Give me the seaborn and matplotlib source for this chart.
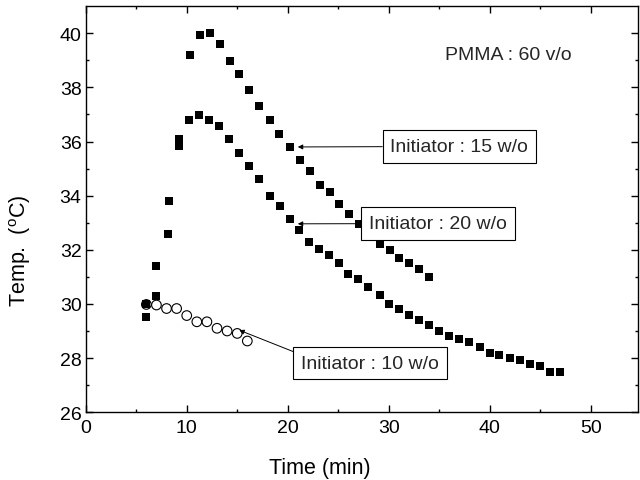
import matplotlib
matplotlib.use("Agg")
import matplotlib.pyplot as plt
import numpy as np
import pandas as pd
import seaborn as sns

# Temperature rise during polymerization, PMMA 60 v/o, three initiator loadings
time_15 = [6.0, 7.0, 8.1, 9.2, 10.3, 11.3, 12.3, 13.3, 14.3, 15.2, 16.2, 17.2, 18.2, 19.1,
           20.2, 21.2, 22.2, 23.2, 24.2, 25.1, 26.1, 27.1, 28.1, 29.1, 30.1, 31.0, 32.0,
           33.0, 34.0]
temp_15 = [29.5, 30.3, 32.6, 36.1, 39.2, 39.93, 40.0, 39.6, 38.97, 38.48, 37.9, 37.3, 36.78,
           36.29, 35.8, 35.3, 34.9, 34.4, 34.12, 33.7, 33.32, 32.95, 32.6, 32.2, 32.0, 31.7,
           31.5, 31.3, 31.0]

time_20 = [6.0, 7.0, 8.2, 9.2, 10.2, 11.2, 12.2, 13.2, 14.2, 15.2, 16.2, 17.2, 18.2, 19.2,
           20.2, 21.1, 22.1, 23.1, 24.1, 25.1, 26.0, 27.0, 28.0, 29.1, 30.0, 31.0, 32.0,
           33.0, 34.0, 35.0, 36.0, 37.0, 38.0, 39.0, 40.0, 40.9, 42.0, 43.0, 44.0, 45.0,
           46.0, 47.0]
temp_20 = [30.0, 31.4, 33.8, 35.85, 36.8, 36.99, 36.8, 36.59, 36.08, 35.58, 35.09, 34.6, 34.0,
           33.6, 33.12, 32.73, 32.3, 32.02, 31.81, 31.52, 31.11, 30.91, 30.64, 30.33, 30.0,
           29.82, 29.6, 29.42, 29.22, 29.01, 28.81, 28.72, 28.61, 28.41, 28.2, 28.11, 27.99,
           27.91, 27.78, 27.71, 27.5, 27.5]

time_10 = [6, 7, 8, 9, 10, 11, 12, 13, 14, 15, 16]
temp_10 = [29.98, 29.96, 29.83, 29.83, 29.57, 29.34, 29.34, 29.1, 29.0, 28.91, 28.63]

sns.set_theme(style="ticks")
plt.rcParams["font.family"] = ["Liberation Sans", "DejaVu Sans"]
plt.rcParams["mathtext.fontset"] = "custom"
plt.rcParams["mathtext.rm"] = "Liberation Sans"

filled = pd.DataFrame({
    "time": time_15 + time_20,
    "temp": temp_15 + temp_20,
})
hollow = pd.DataFrame({"time": time_10, "temp": temp_10})

fig = plt.figure(figsize=(6.4, 4.81), dpi=100)
ax = fig.add_axes([0.134, 0.141, 0.863, 0.844])

sns.scatterplot(data=filled, x="time", y="temp", marker="s", s=30, color="black",
                edgecolor="black", linewidth=0, ax=ax, zorder=2)
sns.scatterplot(data=hollow, x="time", y="temp", marker="o", s=48, facecolor="none",
                edgecolor="black", linewidth=0.8, ax=ax, zorder=2)

ax.set_xlim(0, 54.7)
ax.set_ylim(26, 41)
ax.set_xticks(range(0, 51, 10))
ax.set_xticks(range(5, 55, 10), minor=True)
ax.set_yticks(range(26, 41, 2))
ax.set_yticks(range(27, 41, 2), minor=True)
ax.tick_params(which="both", direction="in", top=True, right=True, labelsize=14,
               color="black", labelcolor="black", width=1)
ax.tick_params(which="major", length=5)
ax.tick_params(axis="x", which="major", pad=5)
ax.tick_params(axis="y", which="major", pad=3)
ax.tick_params(which="minor", length=2.5)
for sp in ax.spines.values():
    sp.set_color("black")
    sp.set_linewidth(1.0)

ax.set_xlabel("Time (min)", fontsize=15.5, color="black")
ax.set_ylabel(r"Temp.  ($^{\mathrm{o}}$C)", fontsize=15.5, color="black")
ax.xaxis.set_label_coords(0.424, -0.11)
ax.yaxis.set_label_coords(-0.095, 0.40)

ax.text(35.6, 39.23, "PMMA : 60 v/o", fontsize=14, ha="left", va="center")

box = dict(boxstyle="square,pad=0.4", facecolor="white", edgecolor="black", linewidth=0.8)
arrow = dict(arrowstyle="-|>", color="black", linewidth=0.7, mutation_scale=7,
             shrinkA=0, shrinkB=0)
ax.annotate("Initiator : 15 w/o", xy=(21.0, 35.8), xytext=(37.0, 35.82),
            fontsize=14, ha="center", va="center", bbox=box, arrowprops=arrow, zorder=3)
ax.annotate("Initiator : 20 w/o", xy=(21.0, 32.96), xytext=(34.9, 32.97),
            fontsize=14, ha="center", va="center", bbox=box, arrowprops=arrow, zorder=3)
ax.annotate("Initiator : 10 w/o", xy=(15.2, 29.03), xytext=(28.15, 27.81),
            fontsize=14, ha="center", va="center", bbox=box,
            arrowprops=dict(arrow, relpos=(0, 1)), zorder=3)

if ax.get_legend() is not None:
    ax.get_legend().remove()

fig.savefig("out.png", dpi=100)
